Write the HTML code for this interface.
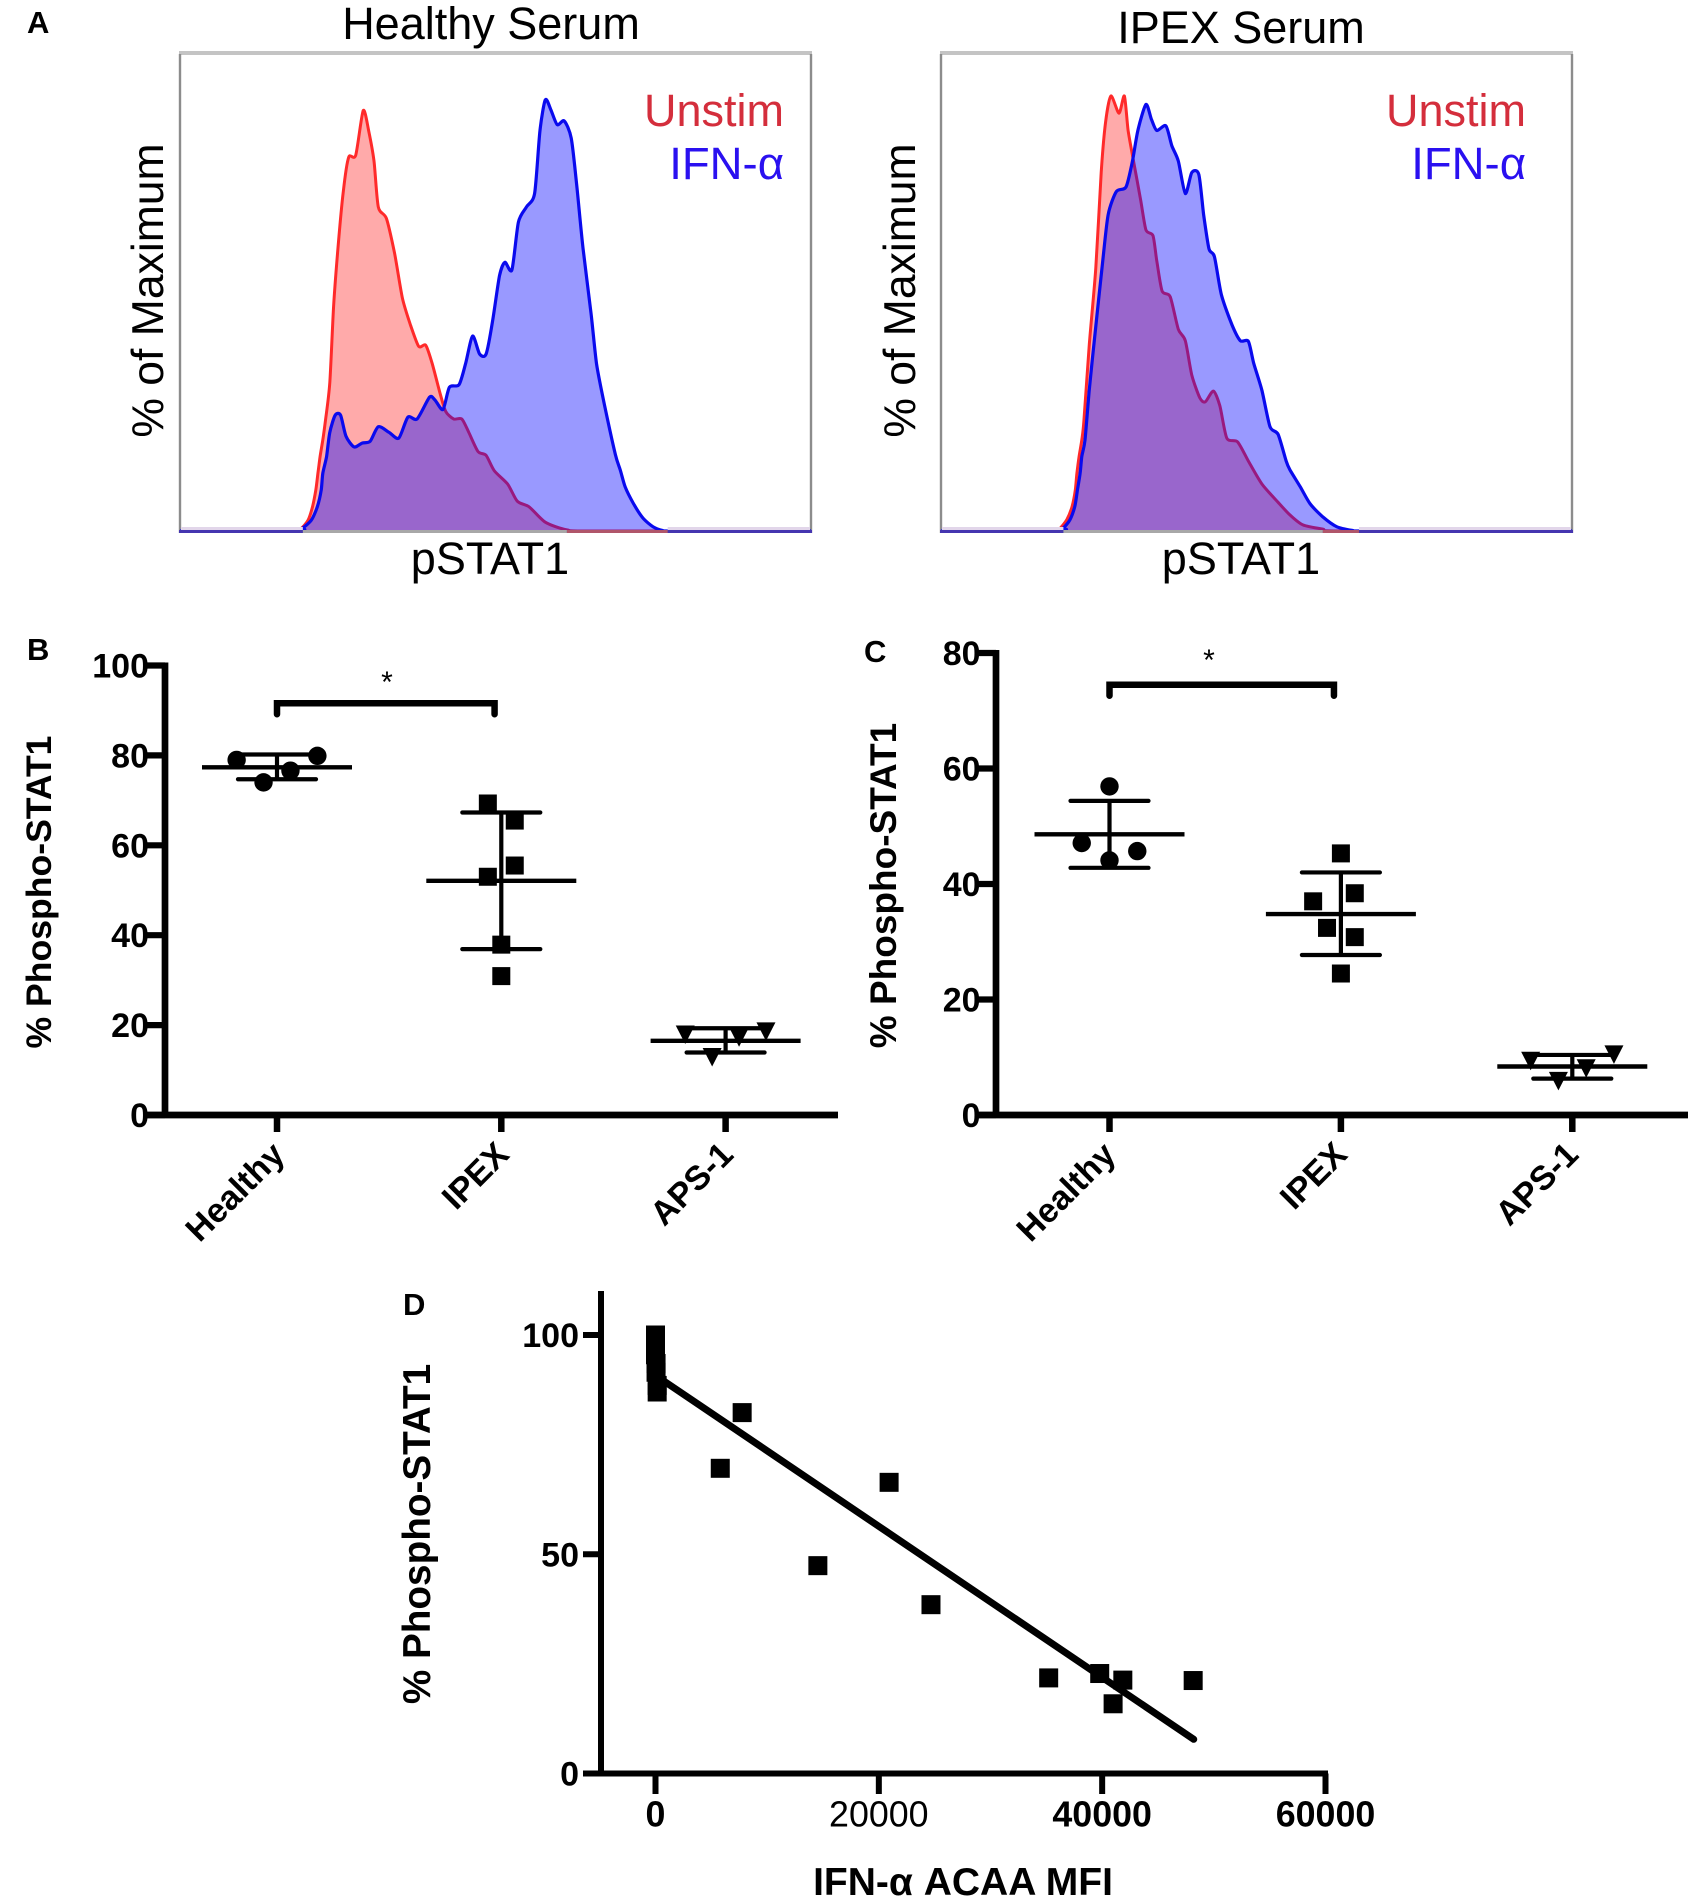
<!DOCTYPE html>
<html lang="en">
<head>
<meta charset="utf-8">
<title>pSTAT1 response figure</title>
<style>
html,body{margin:0;padding:0;background:#fff;}
svg{display:block;font-family:"Liberation Sans",sans-serif;}
</style>
</head>
<body>
<svg id="figure" xmlns="http://www.w3.org/2000/svg" width="1692" height="1903" viewBox="0 0 1692 1903">
  <rect x="0" y="0" width="1692" height="1903" fill="#fff"/>

  <text x="27" y="33" font-size="31" font-weight="bold">A</text>
  <text x="27" y="660" font-size="31" font-weight="bold">B</text>
  <text x="864" y="662" font-size="31" font-weight="bold">C</text>
  <text x="403" y="1315" font-size="31" font-weight="bold">D</text>

  <g id="histLeft"></g>
  <text x="491" y="39" font-size="45" text-anchor="middle">Healthy Serum</text>
  <text x="784" y="126" font-size="45" text-anchor="end" fill="#d42e3c">Unstim</text>
  <text x="784" y="179" font-size="45.5" text-anchor="end" fill="#2a10f0">IFN-α</text>
  <text x="163" y="290.5" font-size="44.5" text-anchor="middle" transform="rotate(-90 163 290.5)">% of Maximum</text>
  <text x="490" y="574" font-size="45" text-anchor="middle">pSTAT1</text>

  <g id="histRight"></g>
  <text x="1241" y="43" font-size="45" text-anchor="middle">IPEX Serum</text>
  <text x="1526" y="126" font-size="45" text-anchor="end" fill="#d42e3c">Unstim</text>
  <text x="1526" y="179" font-size="45.5" text-anchor="end" fill="#2a10f0">IFN-α</text>
  <text x="915" y="290.5" font-size="44.5" text-anchor="middle" transform="rotate(-90 915 290.5)">% of Maximum</text>
  <text x="1241" y="574" font-size="45" text-anchor="middle">pSTAT1</text>

  <g id="plotB"></g>
  <text x="51" y="892" font-size="35.6" font-weight="bold" text-anchor="middle" transform="rotate(-90 51 892)">% Phospho-STAT1</text>
  <text x="387" y="692" font-size="30" text-anchor="middle">*</text>

  <g id="plotC"></g>
  <text x="896" y="885.5" font-size="37" font-weight="bold" text-anchor="middle" transform="rotate(-90 896 885.5)">% Phospho-STAT1</text>
  <text x="1209" y="670" font-size="30" text-anchor="middle">*</text>

  <g id="plotD"></g>
  <text x="430" y="1534" font-size="38.7" font-weight="bold" text-anchor="middle" transform="rotate(-90 430 1534)">% Phospho-STAT1</text>
  <text x="963" y="1895" font-size="39" font-weight="bold" text-anchor="middle">IFN-α ACAA MFI</text>
</svg>

<script>
// ---- Panel A: histogram channels and event counts (arbitrary units) ----
const healthyUnstimChannels = [0,215,226,238,246,252,256,260,265,270,278,285,293,303,313,326,340,350,360,368,383,398,413,428,443,456,468,483,493,508,523,536,553,568,583,608,626,648,678,718,768,1171];
const healthyUnstimCounts   = [0,0,8,29,64,107,151,195,238,290,388,588,738,888,978,983,1100,1048,968,848,818,728,608,538,483,486,438,358,313,293,293,258,208,198,158,123,78,63,23,3,0,0];
const healthyIfnChannels = [0,216,228,244,255,262,265,272,278,288,298,308,323,338,353,368,388,406,423,440,463,473,488,500,518,530,543,556,568,580,593,603,616,628,643,658,668,678,688,700,713,726,736,748,763,773,788,808,817,826,841,859,878,896,905,1171];
const healthyIfnCounts   = [0,3,8,29,64,107,151,195,258,303,303,248,220,230,235,273,258,243,298,293,350,343,318,376,383,438,510,463,463,548,668,703,683,808,848,883,1048,1128,1103,1063,1073,1028,908,738,568,438,328,200,160,116,73,34,11,1,0,0];
const ipexUnstimChannels = [0,210,220,233,243,249,252,256,261,265,275,287,297,305,315,330,340,347,357,370,380,393,400,410,425,440,453,465,480,490,505,517,530,550,570,595,625,647,671,708,745,1170];
const ipexUnstimCounts   = [0,0,6,29,64,107,151,195,238,288,488,688,938,1068,1138,1093,1138,1048,968,868,788,773,708,628,613,528,498,408,348,338,366,328,243,233,183,123,75,42,16,5,0,0];
const ipexIfnChannels = [0,218,227,239,248,253,258,261,267,275,285,300,310,325,343,355,365,380,390,400,417,428,440,453,465,478,487,497,507,520,540,555,570,580,595,610,625,640,647,666,684,708,734,764,775,1170];
const ipexIfnCounts   = [0,3,8,29,64,107,151,195,238,370,508,708,828,888,900,968,1048,1116,1078,1048,1060,1008,968,883,938,933,828,738,718,618,538,498,496,438,368,273,253,183,160,116,72,37,11,1,0,0];

// ---- Panel B values ----
const bCategories = ["Healthy","IPEX","APS-1"];
const bYTicks = [0,20,40,60,80,100];
const bHealthyValues = [79.0,79.9,76.6,74.0];
const bIpexValues = [69.3,65.5,55.5,53.0,37.9,30.9];
const bApsValues = [17.9,18.6,17.3,12.9];
const bMeans = [77.35,52.1,16.5];
const bUpperErrors = [80.2,67.3,19.3];
const bLowerErrors = [74.7,36.9,13.9];
const bBracketValue = [91.6];

// ---- Panel C values ----
const cCategories = ["Healthy","IPEX","APS-1"];
const cYTicks = [0,20,40,60,80];
const cHealthyValues = [56.9,47.1,45.7,44.1];
const cIpexValues = [45.3,38.4,37.0,32.4,30.8,24.5];
const cApsValues = [9.4,10.5,8.1,5.9];
const cMeans = [48.6,34.8,8.4];
const cUpperErrors = [54.4,42.0,10.4];
const cLowerErrors = [42.8,27.7,6.3];
const cBracketValue = [74.5];

// ---- Panel D values ----
const dXTicks = [0,20000,40000,60000];
const dYTicks = [0,50,100];
const dMfiValues = [0,0,0,0,50,50,150,150,7760,5800,20920,14540,24670,35210,39780,41850,40980,48150];
const dPhosphoValues = [100,98.5,97,95.5,93.5,91.5,88.5,87,82.3,69.6,66.4,47.4,38.5,21.8,22.8,21.3,15.9,21.2];
const dFitMfi = [0,48200];
const dFitPhospho = [90.8,7.8];

// ---- Layout (not data) ----
const NS = "http://www.w3.org/2000/svg";
const linear = (d0,d1,r0,r1) => v => r0 + (v-d0)/(d1-d0)*(r1-r0);
function svgEl(tag, attrs, parent){
  const el = document.createElementNS(NS, tag);
  for (const k in attrs) el.setAttribute(k, attrs[k]);
  parent.appendChild(el);
  return el;
}

function smoothPath(pts){
  let d = "M" + pts[0][0].toFixed(1) + " " + pts[0][1].toFixed(1);
  for (let i = 0; i < pts.length-1; i++){
    const p0 = pts[Math.max(0,i-1)], p1 = pts[i], p2 = pts[i+1], p3 = pts[Math.min(pts.length-1,i+2)];
    const k = 8;
    const c1x = p1[0] + (p2[0]-p0[0])/k, c1y = p1[1] + (p2[1]-p0[1])/k;
    const c2x = p2[0] - (p3[0]-p1[0])/k, c2y = p2[1] - (p3[1]-p1[1])/k;
    const long = (p2[0]-p1[0]) > 100;
    d += long
      ? " L" + p2[0].toFixed(1) + " " + p2[1].toFixed(1)
      : " C" + c1x.toFixed(1) + " " + c1y.toFixed(1) + " " + c2x.toFixed(1) + " " + c2y.toFixed(1) + " " + p2[0].toFixed(1) + " " + p2[1].toFixed(1);
  }
  return d;
}

function drawHistogram(groupId, left, right, domainMax, redX, redY, blueX, blueY){
  const g = document.getElementById(groupId);
  const top = 54, base = 531;
  const x = linear(0, domainMax, left, right);
  const y = linear(0, 1248, base, top);
  const linePath = (xs, ys) => smoothPath(xs.map((c,i) => [x(c), y(ys[i])]));
  const redLine = linePath(redX, redY), blueLine = linePath(blueX, blueY);
  const fillStart = x(blueX[2]);
  const fillEnd = x(blueX[blueX.length-2]);
  const innerEnd = x(redX[redX.length-3]);

  const topEdge = svgEl("line",{x1:left-1,x2:right+1,y1:top-1,y2:top-1,stroke:"#c4c4c4","stroke-width":4},g);
  
  
  const leftEdge = svgEl("line",{x1:left,x2:left,y1:top,y2:base+2,stroke:"#8c8c8c","stroke-width":2.4},g);
  
  
  const rightEdge = svgEl("line",{x1:right,x2:right,y1:top,y2:base+2,stroke:"#8c8c8c","stroke-width":2.4},g);
  
  

  const redFill = svgEl("path",{d:redLine+" Z",fill:"#ff0000","fill-opacity":0.333},g);
  
  
  const redStroke = svgEl("path",{d:redLine,fill:"none",stroke:"#ff2a2a","stroke-width":3,"stroke-linejoin":"round"},g);
  
  
  const blueFill = svgEl("path",{d:blueLine+" Z",fill:"#0000ff","fill-opacity":0.4},g);
  
  
  const blueStroke = svgEl("path",{d:blueLine,fill:"none",stroke:"#0a0aee","stroke-width":3.2,"stroke-linejoin":"round"},g);
  
  

  const bandL = svgEl("rect",{x:left+1,y:base-4,width:fillStart-left-1,height:3,fill:"#e2d6ea"},g);
  
  
  const bandR = svgEl("rect",{x:fillEnd,y:base-4,width:right-fillEnd-1,height:3,fill:"#e2d6ea"},g);
  
  
  const baseline = svgEl("line",{x1:left-1,x2:right+1,y1:base+0.5,y2:base+0.5,stroke:"#4535b0","stroke-width":3},g);
  
  
  const baselineInner = svgEl("line",{x1:fillStart,x2:innerEnd,y1:base+0.5,y2:base+0.5,stroke:"#a8a8a8","stroke-width":3},g);
  
  
  const baselineTail = svgEl("line",{x1:innerEnd,x2:fillEnd,y1:base+0.5,y2:base+0.5,stroke:"#b0566a","stroke-width":3},g);
  
  
}

function drawDotPlot(cfg){
  const g = document.getElementById(cfg.group);
  const y = linear(0, cfg.yMax, cfg.y0, cfg.yTop);
  const x = i => cfg.x0 + i*cfg.step;

  const yAxis = svgEl("line",{x1:cfg.axisX,x2:cfg.axisX,y1:cfg.yTop-3,y2:cfg.y0+3,stroke:"#000","stroke-width":6.7},g);
  
  
  const xAxis = svgEl("line",{x1:cfg.tickLeft,x2:cfg.axisEnd,y1:cfg.y0,y2:cfg.y0,stroke:"#000","stroke-width":6.7},g);
  
  

  cfg.yTicks.forEach(t => {
    const tick = svgEl("line",{x1:cfg.tickLeft,x2:cfg.axisX,y1:y(t),y2:y(t),stroke:"#000","stroke-width":6.2},g);
    
    
    const label = svgEl("text",{x:cfg.tickLeft+2,y:y(t)+12,"font-size":34,"font-weight":"bold","text-anchor":"end"},g);
    
    
    label.textContent = t;
  });

  cfg.categories.forEach((c,i) => {
    const tick = svgEl("line",{x1:x(i),x2:x(i),y1:cfg.y0,y2:cfg.y0+17,stroke:"#000","stroke-width":6.5},g);
    
    
    const lx = x(i)+cfg.labelDx, ly = cfg.y0+41.5;
    const label = svgEl("text",{x:lx,y:ly,"font-size":34,"font-weight":"bold","text-anchor":"end",transform:`rotate(-45 ${lx} ${ly})`},g);
    
    
    label.textContent = c;
  });

  // group 0: circles
  cfg.healthy.forEach((v,k) => {
    const dot = svgEl("circle",{cx:x(0+cfg.healthyOffset[k]),cy:y(v),r:9.2,fill:"#000"},g);
    
    
  });
  // group 1: squares
  cfg.ipex.forEach((v,k) => {
    const sq = svgEl("rect",{x:x(1+cfg.ipexOffset[k])-9,y:y(v)-9,width:18,height:18,fill:"#000"},g);
    
    
  });
  // group 2: down triangles
  cfg.aps.forEach((v,k) => {
    const cx = x(2+cfg.apsOffset[k]), cy = y(v);
    const tri = svgEl("polygon",{points:`${cx-9.5},${cy-9} ${cx+9.5},${cy-9} ${cx},${cy+9.5}`,fill:"#000"},g);
    
    
  });

  cfg.means.forEach((m,i) => {
    const mean = svgEl("line",{x1:x(i)-75,x2:x(i)+75,y1:y(m),y2:y(m),stroke:"#000","stroke-width":4.4},g);
    
    
    const bar = svgEl("line",{x1:x(i),x2:x(i),y1:y(cfg.upper[i]),y2:y(cfg.lower[i]),stroke:"#000","stroke-width":4.2},g);
    
    
    const capU = svgEl("line",{x1:x(i)-39,x2:x(i)+39,y1:y(cfg.upper[i]),y2:y(cfg.upper[i]),stroke:"#000","stroke-width":4.2,"stroke-linecap":"round"},g);
    
    
    const capL = svgEl("line",{x1:x(i)-39,x2:x(i)+39,y1:y(cfg.lower[i]),y2:y(cfg.lower[i]),stroke:"#000","stroke-width":4.2,"stroke-linecap":"round"},g);
    
    
  });

  const by = y(cfg.bracket[0]);
  const bx0 = x(0), bx1 = x(0.97);
  const bracket = svgEl("path",{d:`M${bx0} ${by+11} V${by} H${bx1} V${by+11}`,fill:"none",stroke:"#000","stroke-width":6.5,"stroke-linejoin":"miter","stroke-linecap":"round"},g);
  
  
}

function drawScatter(){
  const g = document.getElementById("plotD");
  const x = linear(0, 60000, 655.5, 1325.5);
  const y = linear(0, 100, 1773.5, 1335);
  const axisX = 601;

  const yAxis = svgEl("line",{x1:axisX,x2:axisX,y1:1291,y2:1776.5,stroke:"#000","stroke-width":6},g);
  
  
  const xAxis = svgEl("line",{x1:583,x2:1328,y1:1773.5,y2:1773.5,stroke:"#000","stroke-width":6},g);
  
  

  dYTicks.forEach(t => {
    const tick = svgEl("line",{x1:583,x2:axisX,y1:y(t),y2:y(t),stroke:"#000","stroke-width":6},g);
    
    
    const label = svgEl("text",{x:579,y:y(t)+12,"font-size":34,"font-weight":"bold","text-anchor":"end"},g);
    
    
    label.textContent = t;
  });
  dXTicks.forEach(t => {
    const tick = svgEl("line",{x1:x(t),x2:x(t),y1:1773.5,y2:1794,stroke:"#000","stroke-width":6},g);
    
    
    const label = svgEl("text",{x:x(t),y:1826.5,"font-size":35.8,"font-weight":t===20000?"normal":"bold","text-anchor":"middle"},g);
    
    
    label.textContent = t;
  });

  dMfiValues.forEach((m,i) => {
    const sq = svgEl("rect",{x:x(m)-9.5,y:y(dPhosphoValues[i])-9.5,width:19,height:19,fill:"#000"},g);
    
    
  });

  const fit = svgEl("line",{x1:x(dFitMfi[0]),y1:y(dFitPhospho[0]),x2:x(dFitMfi[1]),y2:y(dFitPhospho[1]),stroke:"#000","stroke-width":7,"stroke-linecap":"round"},g);
  
  
}

drawHistogram("histLeft", 180, 811, 1171, healthyUnstimChannels, healthyUnstimCounts, healthyIfnChannels, healthyIfnCounts);
drawHistogram("histRight", 941, 1572, 1170, ipexUnstimChannels, ipexUnstimCounts, ipexIfnChannels, ipexIfnCounts);

drawDotPlot({
  group:"plotB", yMax:100, y0:1115, yTop:665.5, axisX:165, tickLeft:147, axisEnd:838, labelDx:9.5,
  x0:277, step:224.3, categories:bCategories, yTicks:bYTicks,
  healthy:bHealthyValues, ipex:bIpexValues, aps:bApsValues,
  healthyOffset:[-0.18,0.18,0.06,-0.06], ipexOffset:[-0.06,0.06,0.06,-0.06,0,0], apsOffset:[-0.18,0.18,0.06,-0.06],
  means:bMeans, upper:bUpperErrors, lower:bLowerErrors, bracket:bBracketValue
});
drawDotPlot({
  group:"plotC", yMax:80, y0:1115, yTop:653, axisX:996, tickLeft:978.6, axisEnd:1688, labelDx:8,
  x0:1109.5, step:231.4, categories:cCategories, yTicks:cYTicks,
  healthy:cHealthyValues, ipex:cIpexValues, aps:cApsValues,
  healthyOffset:[0,-0.12,0.12,0], ipexOffset:[0,0.06,-0.12,-0.06,0.06,0], apsOffset:[-0.18,0.18,0.06,-0.06],
  means:cMeans, upper:cUpperErrors, lower:cLowerErrors, bracket:cBracketValue
});
drawScatter();
</script>
</body>
</html>
